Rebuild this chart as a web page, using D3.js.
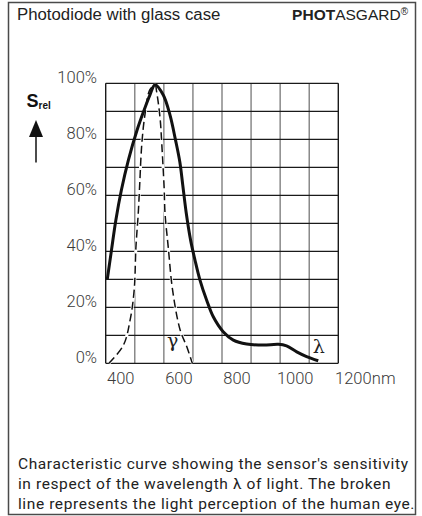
<!DOCTYPE html>
<html><head><meta charset="utf-8">
<script src="https://cdn.jsdelivr.net/npm/d3@7"></script>
<style>
html,body{margin:0;padding:0;background:#fff;}
svg{display:block;}
</style></head><body>
<script>
// ---- data ----
const title = "Photodiode with glass case";
const brandBold = "PHOT";
const brandRegular = "ASGARD";
const brandMark = "®";
const captionLines = [
  "Characteristic curve showing the sensor's sensitivity",
  "in respect of the wavelength λ of light. The broken",
  "line represents the light perception of the human eye."
];
const yAxisSymbol = "S";
const yAxisSub = "rel";
const xTicks = [400, 600, 800, 1000, 1200];
const xUnit = "nm";
const yTicks = [0, 20, 40, 60, 80, 100];
const xGridValues = [350, 450, 550, 650, 750, 850, 950, 1050, 1150];
const yGridValues = [0, 10, 20, 30, 40, 50, 60, 70, 80, 90, 100];

// photodiode sensitivity (solid line)
const sensorWavelength = [355.5, 370, 385, 404, 428, 458, 482, 502, 520, 548, 571, 590, 605, 615, 627, 642, 657, 674, 697, 720, 754, 789, 835, 892, 944, 972, 1007, 1041, 1081];
const sensorValue      = [30, 40.5, 51.2, 61.9, 72.6, 83.3, 90.4, 95.8, 99.5, 95.8, 88.7, 79.8, 71.9, 63.7, 53.7, 44, 36.9, 29.8, 22.6, 16.6, 11.3, 8.3, 6.9, 6.5, 6.8, 6.2, 4.1, 2.4, 0.9];

// human eye perception (broken line)
const eyeWavelength = [361, 411, 434, 448, 454, 462, 467, 474, 485, 502, 520, 525, 537, 543, 551, 554, 565, 580, 606, 629, 646, 648];
const eyeValue      = [0, 6.5, 15.5, 26.2, 41.6, 53.6, 64, 78.1, 88.8, 97.7, 99.4, 97.1, 87.6, 78.1, 62.6, 53.6, 41.6, 26.2, 11.9, 5.9, 0.6, 0];

const curveLabelEye = "γ";
const curveLabelSensor = "λ";

// ---- drawing ----
const W = 422, H = 516;
const svg = d3.select("body").append("svg").attr("width", W).attr("height", H);

const x = d3.scaleLinear().domain([350, 1150]).range([105.7, 338.3]);
const y = d3.scaleLinear().domain([0, 100]).range([363.3, 83.3]);

const tickFont = "Roboto, 'DejaVu Sans', sans-serif";

// outer frame
svg.append("rect").attr("x", 8.5).attr("y", 2.5).attr("width", 407).attr("height", 512)
  .attr("fill", "none").attr("stroke", "#4a4a4a").attr("stroke-width", 1.5);

// header
svg.append("text").attr("x", 17).attr("y", 20)
  .attr("font-family", "'Liberation Sans', Arial, sans-serif").attr("font-size", 16.8)
  .attr("fill", "#222").text(title);
const brand = svg.append("text").attr("x", 408).attr("y", 20).attr("text-anchor", "end")
  .attr("font-family", "'Liberation Sans', Arial, sans-serif").attr("font-size", 15.5).attr("fill", "#222");
brand.append("tspan").attr("font-weight", "bold").text(brandBold);
brand.append("tspan").text(brandRegular);
brand.append("tspan").attr("font-size", 10).attr("dy", -5).text(brandMark);

// grid
const grid = svg.append("g");
grid.selectAll("line.v").data(xGridValues).join("line")
  .attr("x1", d => x(d)).attr("x2", d => x(d)).attr("y1", y(100)).attr("y2", y(0))
  .attr("stroke", (d, i) => (i === 0 || i === xGridValues.length - 1) ? "#1a1a1a" : "#808080")
  .attr("stroke-width", 1.4);
grid.selectAll("line.h").data(yGridValues).join("line")
  .attr("x1", x(350)).attr("x2", x(1150)).attr("y1", d => y(d)).attr("y2", d => y(d))
  .attr("stroke", "#1a1a1a").attr("stroke-width", 1.3);

// x axis labels
const xAxis = svg.append("g").attr("transform", `translate(0,${y(0)})`)
  .call(d3.axisBottom(x).tickValues(xTicks).tickSize(0).tickFormat(d3.format("d")));
xAxis.select(".domain").remove();
xAxis.selectAll("text").attr("y", 21).attr("dy", null)
  .attr("font-family", tickFont).attr("font-weight", 300).attr("font-size", 16.5).attr("fill", "#3a3a3a");
svg.append("text").attr("x", x(1200) + 19).attr("y", y(0) + 21)
  .attr("font-family", tickFont).attr("font-weight", 300).attr("font-size", 16.5).attr("fill", "#3a3a3a")
  .text(xUnit);

// y axis labels
const yAxis = svg.append("g").attr("transform", "translate(97,0)")
  .call(d3.axisLeft(y).tickValues(yTicks).tickSize(0).tickPadding(0).tickFormat(d => d + "%"));
yAxis.select(".domain").remove();
yAxis.selectAll("text").attr("dy", null).attr("y", -1)
  .attr("font-family", tickFont).attr("font-weight", 300).attr("font-size", 16.5).attr("fill", "#3a3a3a");

// y axis title + arrow
const yt = svg.append("text").attr("x", 26.5).attr("y", 107)
  .attr("font-family", "'Liberation Sans', Arial, sans-serif").attr("font-weight", "bold").attr("fill", "#111");
yt.append("tspan").attr("font-size", 18).text(yAxisSymbol);
yt.append("tspan").attr("font-size", 10).attr("dy", 2).text(yAxisSub);
svg.append("path").attr("d", "M36,120 L43,137 L29,137 Z").attr("fill", "#111");
svg.append("line").attr("x1", 36).attr("x2", 36).attr("y1", 136).attr("y2", 162.5)
  .attr("stroke", "#111").attr("stroke-width", 1.5);

// curves
const line = d3.line().x(d => x(d[0])).y(d => y(d[1])).curve(d3.curveCatmullRom.alpha(0.5));
const eyeData = d3.zip(eyeWavelength, eyeValue);
const sensorData = d3.zip(sensorWavelength, sensorValue);

svg.append("path").attr("d", line(eyeData)).attr("fill", "none")
  .attr("stroke", "#fff").attr("stroke-width", 3);
svg.append("path").attr("d", line(eyeData)).attr("fill", "none")
  .attr("stroke", "#111").attr("stroke-width", 1.5).attr("stroke-dasharray", "8,4");
svg.append("path").attr("d", line(sensorData)).attr("fill", "none")
  .attr("stroke", "#111").attr("stroke-width", 3).attr("stroke-linejoin", "round").attr("stroke-linecap", "butt");

// curve labels
svg.append("text").attr("x", x(580)).attr("y", y(6))
  .attr("font-family", "'DejaVu Serif', 'Liberation Serif', serif").attr("font-size", 19)
  .attr("fill", "#222").attr("text-anchor", "middle").text(curveLabelEye);
svg.append("text").attr("x", x(1083)).attr("y", y(3.7))
  .attr("font-family", "'DejaVu Serif', 'Liberation Serif', serif").attr("font-size", 19)
  .attr("fill", "#222").attr("text-anchor", "middle").text(curveLabelSensor);

// caption
svg.append("g").selectAll("text").data(captionLines).join("text")
  .attr("x", 18).attr("y", (d, i) => 469 + i * 20)
  .attr("font-family", tickFont).attr("font-size", 15.5).attr("letter-spacing", 0.6).attr("fill", "#222")
  .text(d => d);
</script>
</body></html>
